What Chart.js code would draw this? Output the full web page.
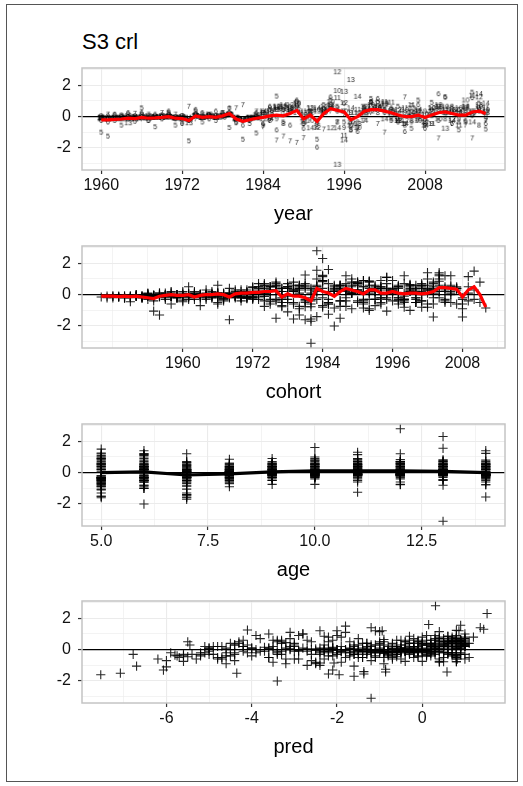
<!DOCTYPE html>
<html>
<head>
<meta charset="utf-8">
<script src="https://cdn.jsdelivr.net/npm/chart.js@4.4.1/dist/chart.umd.min.js"></script>
<style>
  html, body { margin: 0; padding: 0; background: #fff; }
  #page { position: relative; width: 523px; height: 786px; overflow: hidden; background: #fff; }
  #frame { position: absolute; left: 6px; top: 4px; width: 510px; height: 776px; border: 1px solid #555; }
  #title { position: absolute; left: 82px; top: 31px; font: 22px/22px "Liberation Sans", Arial, sans-serif; color: #000; }
  canvas { position: absolute; left: 0; }
</style>
</head>
<body>
<div id="page">
  <div id="frame"></div>
  <div id="title">S3 crl</div>
  <canvas id="yearChart" width="523" height="182" style="top:48px"></canvas>
  <canvas id="cohortChart" width="523" height="182" style="top:226px"></canvas>
  <canvas id="ageChart" width="523" height="182" style="top:404px"></canvas>
  <canvas id="predChart" width="523" height="182" style="top:581px"></canvas>
</div>
<script>
const years = [1960, 1961, 1962, 1963, 1964, 1965, 1966, 1967, 1968, 1969,
  1970, 1971, 1972, 1973, 1974, 1975, 1976, 1977, 1978, 1979,
  1980, 1981, 1982, 1983, 1984, 1985, 1986, 1987, 1988, 1989,
  1990, 1991, 1992, 1993, 1994, 1995, 1996, 1997, 1998, 1999,
  2000, 2001, 2002, 2003, 2004, 2005, 2006, 2007, 2008, 2009,
  2010, 2011, 2012, 2013, 2014, 2015, 2016, 2017];
const ages = [5, 6, 7, 8, 9, 10, 11, 12, 13, 14];

// residuals per age, one value per year
const res5 = [-1.05, -1.3, -0.3, -0.6, -0.2, -0.35, 0.5, -0.3, -0.7, -0.2,
  0.2, -0.6, -0.4, -1.6, 0.3, -0.4, 0.1, -0.3, 0.2, -0.75,
  -0.45, -1.5, -0.5, -1.1, -0.6, 0.4, 1.25, -0.4, 0.6, 0.9,
  -0.5, 0.3, -1.5, 0.7, 1.0, 0.6, -0.4, -0.9, -0.7, 0.5,
  1.1, 0.9, 0.4, -0.3, 0.6, -0.5, -0.8, 1.0, -0.6, 0.85,
  -0.3, 1.2, 0.5, -0.9, -0.4, 1.5, 0.8, -0.85];
const res6 = [-0.3, -0.4, 0.1, -0.2, 0.2, -0.1, 0.2, -0.3, 0.1, 0.0,
  0.3, -0.2, -0.5, -0.3, 0.4, 0.2, -0.2, 0.3, 0.1, 0.5,
  -0.4, -0.6, -0.3, 0.2, -0.5, 0.6, -0.9, 0.4, -0.6, 1.0,
  -0.8, 0.2, -2.0, 0.5, 1.2, 0.3, 0.8, -0.6, -1.0, 0.6,
  0.9, 1.1, 0.2, 0.5, -0.4, -1.0, 0.3, 0.7, -0.8, 0.4,
  1.4, 1.2, -0.5, 0.4, -0.3, 1.15, 0.3, -0.5];
const res7 = [-0.1, 0.1, -0.2, 0.0, -0.1, 0.15, -0.2, 0.1, -0.1, 0.2,
  -0.1, 0.1, 0.0, 0.6, -0.2, 0.1, -0.1, 0.0, 0.2, 0.45,
  0.5, 0.7, -0.3, 0.3, -0.7, -0.3, -1.55, -1.3, -1.6, -1.7,
  -1.4, -0.2, -0.6, -0.85, 0.3, -0.4, 0.1, -0.5, -0.85, -0.3,
  0.2, -0.5, -1.05, 0.4, -0.2, 1.2, 0.65, -0.3, -0.4, 0.3,
  -1.42, 0.2, -0.5, 0.1, -0.6, -1.42, 0.5, -0.3];
const res8 = [0.0, -0.1, 0.05, -0.05, 0.1, -0.1, 0.05, 0.0, -0.1, 0.05,
  0.1, -0.05, -0.1, -0.2, 0.1, 0.0, 0.05, -0.1, 0.0, 0.15,
  -0.2, -0.3, -0.1, 0.0, 0.2, -0.3, 0.4, -0.5, 0.3, 0.5,
  -0.2, 0.3, -0.7, 0.2, 0.6, -0.4, 0.3, -0.9, -0.4, 0.5,
  0.85, 0.2, 0.4, -0.2, 0.1, -0.6, -0.3, 0.3, -0.5, 0.0,
  0.4, -0.2, 0.6, -0.4, 0.2, 0.3, -0.6, 0.1];
const res9 = [-0.1, 0.0, -0.1, 0.05, -0.05, 0.0, 0.1, -0.1, 0.0, -0.05,
  0.05, -0.15, 0.0, -0.3, 0.1, -0.1, 0.05, 0.0, -0.05, 0.2,
  -0.1, -0.2, -0.15, 0.1, 0.3, 0.5, -0.2, 0.4, 0.2, 0.6,
  -0.5, 0.1, -0.3, 0.4, 0.7, 0.5, -0.75, 0.2, 0.1, 0.3,
  0.9, 0.6, 0.3, 0.4, -0.3, 0.2, -0.4, -0.1, 0.3, -0.5,
  0.6, 0.1, 0.3, -0.2, 0.5, 0.0, 0.4, -0.2];
const res10 = [-0.2, -0.15, -0.1, -0.2, 0.0, -0.1, -0.05, 0.0, -0.1, 0.0,
  -0.05, -0.1, -0.05, -0.2, 0.0, -0.1, 0.1, 0.0, -0.1, 0.1,
  -0.2, -0.25, -0.1, 0.05, 0.1, 0.3, 0.6, 0.2, 0.5, 0.8,
  0.1, -0.3, 0.4, 0.2, 0.9, 1.6, 0.3, -0.4, -0.75, 0.1,
  0.7, 0.5, 0.8, 0.3, -0.2, 0.4, 0.2, -0.3, 0.1, 0.5,
  -0.2, 0.6, 0.3, 0.5, 1.0, 0.2, 0.6, 0.4];
const res11 = [-0.1, -0.2, -0.15, -0.1, -0.2, -0.05, -0.1, -0.15, -0.05, -0.1,
  0.0, -0.1, -0.15, -0.1, 0.05, -0.05, 0.0, -0.1, 0.1, 0.1,
  -0.1, -0.2, -0.2, -0.1, 0.2, -0.1, 0.5, 0.6, 0.4, 0.7,
  0.3, 0.5, -0.4, 0.3, 0.5, 1.15, -1.25, 0.2, 0.4, 0.3,
  0.6, 0.8, 0.9, 0.86, -0.3, 0.5, 0.7, 0.3, -0.2, -0.5,
  0.6, 0.4, 0.2, -0.6, 0.3, 1.3, 0.4, 0.5];
const res12 = [-0.1, -0.15, -0.2, -0.1, -0.1, -0.2, -0.1, -0.05, -0.1, -0.05,
  -0.1, -0.15, -0.1, -0.2, 0.0, -0.1, -0.05, -0.1, 0.0, 0.05,
  -0.15, -0.2, -0.1, -0.15, -0.2, 0.3, 0.6, 0.5, 0.7, 0.4,
  -0.1, 0.2, -0.75, 0.6, -0.77, 2.8, 0.83, -0.6, 0.2, 0.6,
  0.3, 0.5, 0.7, 0.2, 0.4, -0.3, 0.0, 0.3, -0.4, 0.5,
  0.7, 0.2, -0.2, 0.4, 0.6, 0.1, 1.2, 0.3];
const res13 = [-0.1, -0.2, -0.15, -0.1, -0.45, -0.1, -0.15, -0.1, -0.05, -0.1,
  -0.05, -0.1, -0.2, -0.45, -0.05, -0.1, 0.0, -0.05, 0.0, 0.1,
  -0.1, -0.2, -0.15, -0.1, 0.1, 0.2, 0.4, 0.6, 0.5, 0.8,
  0.2, 0.5, 0.3, 0.4, 0.7, -3.1, 1.55, 2.3, -0.5, 0.2,
  0.6, 0.4, 0.8, 0.3, -0.3, 0.1, 0.5, -0.2, 0.1, 0.3,
  0.6, -0.8, 0.4, 0.2, 0.5, 0.3, 0.7, 0.2];
const res14 = [-0.15, -0.2, -0.1, -0.15, -0.1, -0.2, -0.1, -0.15, -0.1, -0.1,
  -0.05, -0.15, -0.1, -0.2, 0.0, -0.1, -0.05, -0.1, 0.0, 0.05,
  -0.2, -0.25, -0.15, -0.1, 0.3, -0.2, 0.5, 0.7, 0.4, 0.2,
  -0.4, -0.77, 0.5, 0.3, 0.6, -0.77, -1.55, 0.5, 1.23, -0.3,
  0.4, 0.6, -0.2, 0.1, 0.3, -0.5, 0.2, 0.4, -0.6, 0.1,
  0.3, 0.5, -0.3, 0.2, 0.6, -0.4, 1.4, 0.8];

// predicted values per age, one value per year
const pred5 = [-6.7, -6.07, -6.78, -6.2, -5.9, -5.8, -5.5, -5.6, -6.0, -5.2,
  -5.1, -5.3, -5.6, -7.54, -5.45, -5.75, -5.0, -5.2, -4.9, -5.6,
  -5.5, -7.08, -5.7, -6.0, -4.8, -4.5, -4.1, -4.6, -4.2, -3.9,
  -4.7, -4.4, -4.35, -3.8, -3.6, -3.5, -4.0, -4.6, -4.4, -3.3,
  -3.1, -2.9, -3.0, -3.4, -2.7, -3.6, -2.5, -2.8, -3.2, -2.3,
  -2.6, -2.0, -2.2, -2.5, -2.1, -1.8, -1.9, -2.4];
const pred6 = [-5.4, -5.2, -5.0, -5.1, -4.8, -5.0, -4.7, -4.9, -4.6, -4.5,
  -4.4, -4.6, -4.8, -5.0, -4.3, -4.2, -4.4, -4.1, -4.0, -4.3,
  -4.5, -4.7, -4.4, -4.2, -3.6, -3.4, -3.2, -3.3, -3.0, -2.8,
  -3.5, -3.1, -3.4, -2.6, -2.4, -2.3, -2.2, -2.9, -2.7, -2.1,
  -2.0, -1.8, -1.9, -1.7, -2.2, -2.4, -1.6, -1.5, -1.9, -1.4,
  -1.2, -1.1, -1.5, -1.3, -1.6, -1.0, -1.1, -1.4];
const pred7 = [-4.2, -4.0, -4.1, -3.9, -3.8, -3.7, -3.9, -3.6, -3.7, -3.5,
  -3.4, -3.6, -3.5, -3.3, -3.4, -3.2, -3.3, -3.1, -3.0, -3.2,
  -3.4, -3.1, -3.3, -3.0, -2.6, -2.4, -2.2, -2.1, -1.95, -1.6,
  -1.37, -2.0, -2.3, -2.07, -1.5, -1.7, -1.4, -1.8, -2.5, -1.3,
  -1.2, -1.1, -1.6, -1.0, -1.2, -0.94, -0.9, -0.8, -1.1, -0.7,
  -0.86, -0.6, -0.9, -0.5, -0.7, 0.58, -0.4, -0.6];
const pred8 = [-3.2, -3.0, -3.1, -2.9, -2.8, -2.9, -2.7, -2.6, -2.7, -2.5,
  -2.4, -2.5, -2.3, -2.4, -2.2, -2.3, -2.1, -2.2, -2.0, -2.1,
  -2.2, -2.0, -1.9, -1.8, -1.6, -1.5, -1.3, -1.4, -1.2, -1.0,
  -1.1, -0.9, -1.2, -0.8, -0.6, -0.7, -0.5, -0.9, -0.8, -0.4,
  -0.3, -0.2, -0.3, -0.4, -0.1, -0.5, -0.3, 0.0, -0.2, 0.1,
  0.0, 0.2, -0.1, 0.1, 0.3, 0.2, 0.4, 0.1];
const pred9 = [-2.4, -2.3, -2.2, -2.3, -2.1, -2.0, -2.1, -1.9, -2.0, -1.8,
  -1.7, -1.9, -1.8, -1.6, -1.7, -1.5, -1.6, -1.4, -1.5, -1.3,
  -1.4, -1.5, -1.2, -1.3, -1.0, -0.9, -0.8, -0.7, -0.6, -0.5,
  -0.7, -0.4, -0.6, -0.3, -0.2, -0.1, -0.4, -0.3, -0.2, 0.0,
  0.1, 0.2, 0.1, 0.0, 0.3, -0.1, 0.2, 0.4, 0.3, 0.5,
  0.4, 0.6, 0.3, 0.5, 0.7, 0.4, 0.6, 0.5];
const pred10 = [-1.8, -1.7, -1.6, -1.7, -1.5, -1.4, -1.5, -1.3, -1.4, -1.2,
  -1.1, -1.3, -1.2, -1.0, -1.1, -0.9, -1.0, -0.8, -0.9, -0.7,
  -0.8, -0.9, -0.6, -0.7, -0.5, -0.4, -0.3, -0.2, -0.1, 0.0,
  -0.3, 0.1, -0.2, 0.2, 0.3, 0.15, 0.1, -0.1, 0.0, 0.3,
  0.4, 0.5, 0.4, 0.3, 0.6, 0.2, 0.5, 0.7, 0.4, 0.8,
  0.6, 0.9, 0.5, 0.7, 1.0, 0.6, 0.8, 0.7];
const pred11 = [-1.4, -1.3, -1.2, -1.3, -1.1, -1.0, -1.1, -0.9, -1.0, -0.8,
  -0.7, -0.9, -0.8, -0.6, -0.7, -0.5, -0.6, -0.4, -0.5, -0.3,
  -0.4, -0.5, -0.2, -0.3, -0.2, -0.1, 0.0, 0.1, 0.2, 0.3,
  0.0, 0.4, 0.1, 0.5, 0.6, 0.4, -0.86, 0.2, 0.3, 0.5,
  0.6, 0.7, 0.8, 0.6, 0.9, 0.5, 0.8, 1.0, 0.7, 1.1,
  0.9, 1.0, 0.8, 1.0, 0.9, 1.44, 1.1, 0.8];
const pred12 = [-1.1, -1.0, -0.9, -1.0, -0.8, -0.7, -0.8, -0.6, -0.7, -0.5,
  -0.4, -0.6, -0.5, -0.3, -0.4, -0.2, -0.3, -0.1, -0.2, 0.0,
  -0.1, -0.2, 0.1, 0.0, 0.1, 0.2, 0.3, 0.4, 0.5, 0.6,
  0.3, 0.7, 0.4, 0.8, 0.5, 0.31, 0.6, 0.82, 0.5, 0.7,
  0.9, 0.8, 0.7, 1.0, 0.9, 0.6, 0.8, 1.0, 0.8, 0.9,
  1.0, 0.9, 0.7, 1.0, 0.9, 0.8, 0.86, 0.9];
const pred13 = [-0.9, -0.8, -0.7, -0.8, -0.6, -0.5, -0.6, -0.4, -0.5, -0.3,
  -0.2, -0.4, -0.3, -0.1, -0.2, 0.0, -0.1, 0.1, 0.0, 0.2,
  0.1, 0.0, 0.3, 0.2, 0.3, 0.4, 0.5, 0.6, 0.7, 0.8,
  0.5, 0.9, 0.6, 0.7, 0.8, -1.2, 0.9, 1.52, 0.8, 0.7,
  0.9, 0.8, 1.0, 0.7, 0.9, 0.8, 1.0, 0.9, 0.8, 1.0,
  0.9, 0.4, 0.8, 1.0, 0.9, 0.8, 1.0, 0.9];
const pred14 = [-0.7, -0.6, -0.5, -0.6, -0.4, -0.3, -0.4, -0.2, -0.3, -0.1,
  0.0, -0.2, -0.1, 0.1, 0.0, 0.2, 0.1, 0.3, 0.2, 0.4,
  0.3, 0.2, 0.5, 0.4, 0.5, 0.6, 0.7, 0.8, 0.6, 0.9,
  0.7, 0.8, 0.6, 0.9, 0.7, 0.8, -1.37, 0.9, 0.8, 1.0,
  0.9, 1.0, 0.8, 0.9, 1.0, 0.8, 0.9, 1.0, 0.8, 0.9,
  1.0, 0.9, 0.8, 1.0, 0.9, 0.8, 1.36, 1.2];

// summary lines
const yearMean = [-0.2, -0.2, -0.18, -0.15, -0.1, -0.12, -0.05, -0.1, -0.08, -0.05,
  0.0, -0.1, -0.12, -0.25, 0.05, -0.05, 0.0, -0.05, 0.05, 0.2,
  -0.15, -0.3, -0.2, -0.1, -0.05, 0.05, 0.1, 0.05, 0.2, 0.4,
  -0.15, 0.1, -0.3, 0.2, 0.5, 0.4, 0.3, -0.2, 0.0, 0.35,
  0.45, 0.45, 0.35, 0.25, 0.1, 0.0, 0.0, 0.1, -0.05, 0.1,
  0.25, 0.3, 0.2, 0.1, 0.1, 0.3, 0.35, 0.2];
const cohorts = [1946, 1947, 1948, 1949,
  1950, 1951, 1952, 1953, 1954, 1955, 1956, 1957, 1958, 1959,
  1960, 1961, 1962, 1963, 1964, 1965, 1966, 1967, 1968, 1969,
  1970, 1971, 1972, 1973, 1974, 1975, 1976, 1977, 1978, 1979,
  1980, 1981, 1982, 1983, 1984, 1985, 1986, 1987, 1988, 1989,
  1990, 1991, 1992, 1993, 1994, 1995, 1996, 1997, 1998, 1999,
  2000, 2001, 2002, 2003, 2004, 2005, 2006, 2007, 2008, 2009,
  2010, 2011, 2012];
const cohortMean = [-0.1, -0.1, -0.1, -0.12,
  -0.1, -0.12, -0.1, -0.15, -0.2, -0.25, -0.1, -0.05, 0.0, -0.05,
  -0.05, 0.0, -0.15, -0.05, 0.0, 0.0, 0.05, 0.0, -0.15, 0.05,
  0.1, 0.1, 0.15, 0.15, 0.2, 0.2, 0.25, -0.15, 0.05, -0.1,
  -0.1, -0.2, -0.4, 0.4, 0.2, 0.1, -0.1, 0.2, 0.4, 0.3,
  0.2, 0.05, 0.3, 0.3, 0.1, 0.1, 0.2, 0.1, 0.05, 0.1,
  0.1, 0.05, 0.1, 0.2, 0.45, 0.45, 0.4, 0.35, -0.15, 0.3,
  0.5, 0.0, -0.8];
const ageMean = [0.0, 0.05, -0.15, -0.08, 0.05, 0.12, 0.12, 0.12, 0.08, 0.0];

// axis breaks (minor + major) and labelled majors
const resTicks = [-3, -2, -1, 0, 1, 2, 3];
const resLabels = [-2, 0, 2];
const yearTicks = [1960, 1966, 1972, 1978, 1984, 1990, 1996, 2002, 2008, 2014];
const yearLabels = [1960, 1972, 1984, 1996, 2008];
const cohortTicks = [1948, 1954, 1960, 1966, 1972, 1978, 1984, 1990, 1996, 2002, 2008, 2014];
const cohortLabels = [1960, 1972, 1984, 1996, 2008];
const ageTicks = [5, 6.25, 7.5, 8.75, 10, 11.25, 12.5, 13.75];
const ageLabels = [5, 7.5, 10, 12.5];
const predTicks = [-7, -6, -5, -4, -3, -2, -1, 0, 1];
const predLabels = [-6, -4, -2, 0];

const resByAge = [res5, res6, res7, res8, res9, res10, res11, res12, res13, res14];
const predByAge = [pred5, pred6, pred7, pred8, pred9, pred10, pred11, pred12, pred13, pred14];

Chart.defaults.font.family = '"Liberation Sans", Arial, sans-serif';

const panelBorder = {
  id: 'panelBorder',
  afterDraw(chart) {
    const { ctx, chartArea: a } = chart;
    ctx.save();
    ctx.strokeStyle = '#c4c4c4';
    ctx.lineWidth = 1.5;
    ctx.strokeRect(a.left, a.top, a.right - a.left, a.bottom - a.top);
    ctx.restore();
  }
};
Chart.register(panelBorder);

const gridFor = (labels) => ({
  color: '#ebebeb',
  lineWidth: (c) => labels.includes(c.tick.value) ? 1.1 : 0.6,
  tickLength: 4,
  tickWidth: 1.2,
  tickColor: (c) => labels.includes(c.tick.value) ? '#333' : 'rgba(0,0,0,0)'
});

const xScale = (min, max, ticks, labels, title, fmt) => ({
  type: 'linear',
  min: min,
  max: max,
  afterBuildTicks: (s) => { s.ticks = ticks.map((v) => ({ value: v })); },
  afterFit: (s) => { s.height = 60; },
  ticks: {
    autoSkip: false, maxRotation: 0, padding: 2, color: '#111', font: { size: 16 },
    callback: (v) => labels.includes(v) ? fmt(v) : ''
  },
  grid: gridFor(labels),
  border: { display: false },
  title: { display: true, text: title, color: '#000', font: { size: 20 }, padding: { top: 0, bottom: 4 } }
});

const yScale = () => ({
  type: 'linear',
  min: -3.4,
  max: 3.1,
  afterBuildTicks: (s) => { s.ticks = resTicks.map((v) => ({ value: v })); },
  afterFit: (s) => { s.width = 82; },
  ticks: {
    autoSkip: false, padding: 7, color: '#111', font: { size: 16 },
    callback: (v) => resLabels.includes(v) ? String(v) : ''
  },
  grid: gridFor(resLabels),
  border: { display: false }
});

const zeroLine = (min, max, order) => ({
  data: [{ x: min, y: 0 }, { x: max, y: 0 }],
  showLine: true, borderColor: '#000', borderWidth: 1.3, pointRadius: 0, order: order
});

const crosses = (points) => ({
  data: points,
  pointStyle: 'cross', pointRadius: 4.6, borderWidth: 1.1,
  borderColor: 'rgba(0,0,0,0.85)', backgroundColor: 'rgba(0,0,0,0)', order: 3
});

const labelImage = (text) => {
  const c = document.createElement('canvas');
  let ctx = c.getContext('2d');
  const font = '7px "Liberation Sans", Arial, sans-serif';
  ctx.font = font;
  const w = Math.ceil(ctx.measureText(text).width) + 2;
  c.width = w;
  c.height = 9;
  ctx = c.getContext('2d');
  ctx.font = font;
  ctx.fillStyle = 'rgba(0,0,0,0.9)';
  ctx.textAlign = 'center';
  ctx.textBaseline = 'middle';
  ctx.fillText(text, w / 2, 4.5);
  return c;
};

const makeChart = (id, datasets, x) => new Chart(document.getElementById(id), {
  type: 'scatter',
  data: { datasets: datasets },
  options: {
    animation: false,
    responsive: false,
    devicePixelRatio: 1,
    events: [],
    layout: { padding: { top: 20, right: 18, left: 0, bottom: 0 } },
    plugins: { legend: { display: false }, tooltip: { enabled: false } },
    scales: { x: x, y: yScale() }
  }
});

// year panel: residuals written as their age
const yearSets = ages.map((a, i) => ({
  data: years.map((yr, j) => ({ x: yr, y: resByAge[i][j] })),
  pointStyle: labelImage(String(a)),
  pointRadius: 4,
  order: 3
}));
makeChart('yearChart', [
  { data: years.map((yr, j) => ({ x: yr, y: yearMean[j] })), showLine: true,
    borderColor: '#ff0000', borderWidth: 3.2, pointRadius: 0, order: 0 },
  zeroLine(1957.15, 2019.85, 1)
].concat(yearSets), xScale(1957.15, 2019.85, yearTicks, yearLabels, 'year', (v) => String(v)));

// cohort panel
const cohortPts = [];
ages.forEach((a, i) => years.forEach((yr, j) => cohortPts.push({ x: yr - a, y: resByAge[i][j] })));
makeChart('cohortChart', [
  { data: cohorts.map((c, j) => ({ x: c, y: cohortMean[j] })), showLine: true,
    borderColor: '#ff0000', borderWidth: 3.2, pointRadius: 0, order: 0 },
  zeroLine(1942.7, 2015.3, 1),
  crosses(cohortPts)
], xScale(1942.7, 2015.3, cohortTicks, cohortLabels, 'cohort', (v) => String(v)));

// age panel
const agePts = [];
ages.forEach((a, i) => years.forEach((yr, j) => agePts.push({ x: a, y: resByAge[i][j] })));
makeChart('ageChart', [
  { data: ages.map((a, i) => ({ x: a, y: ageMean[i] })), showLine: true,
    borderColor: '#000', borderWidth: 3.2, pointRadius: 0, order: 0 },
  zeroLine(4.55, 14.45, 1),
  crosses(agePts)
], xScale(4.55, 14.45, ageTicks, ageLabels, 'age', (v) => v.toFixed(1)));

// pred panel
const predPts = [];
ages.forEach((a, i) => years.forEach((yr, j) => predPts.push({ x: predByAge[i][j], y: resByAge[i][j] })));
makeChart('predChart', [
  zeroLine(-7.98, 1.94, 0),
  crosses(predPts)
], xScale(-7.98, 1.94, predTicks, predLabels, 'pred', (v) => String(v)));
</script>
</body>
</html>
